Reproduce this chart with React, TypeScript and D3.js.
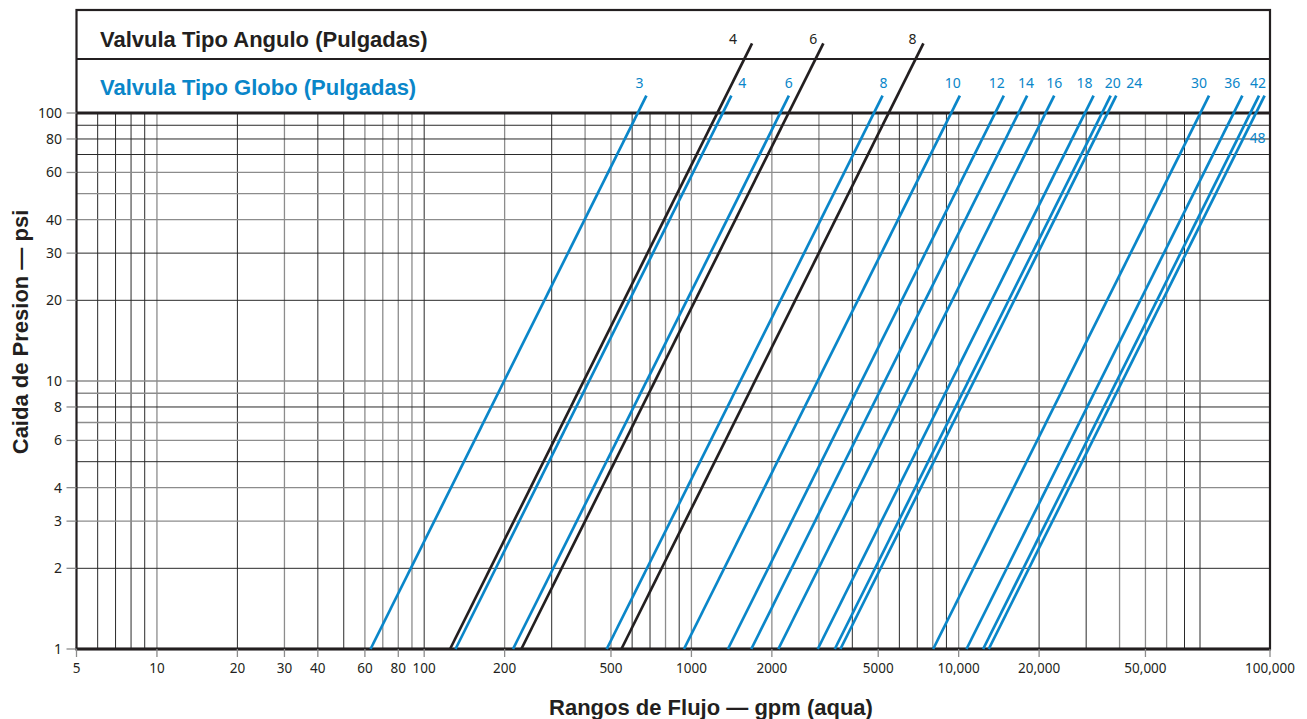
import React from "react";
import * as d3 from "d3";

// ---- data ----
const globoSizes = ["3", "4", "6", "8", "10", "12", "14", "16", "18", "20", "24", "30", "36", "42", "48"];
const globoCv = [63, 131, 215, 482, 938, 1370, 1675, 2115, 2970, 3440, 3610, 8030, 10700, 12350, 12960];
const anguloSizes = ["4", "6", "8"];
const anguloCv = [125, 231, 547];
const globoTopPsi = 116;
const anguloTopPsi = 182;
const xTickValues = [5, 10, 20, 30, 40, 60, 80, 100, 200, 500, 1000, 2000, 5000, 10000, 20000, 50000];
const xTickLabels = ["5", "10", "20", "30", "40", "60", "80", "100", "200", "500", "1000", "2000", "5000", "10,000", "20,000", "50,000"];
const xEndLabel = "100,000";
const yTickValues = [1, 2, 3, 4, 6, 8, 10, 20, 30, 40, 60, 80, 100];
const yTickLabels = ["1", "2", "3", "4", "6", "8", "10", "20", "30", "40", "60", "80", "100"];

// ---- styles ----
const BLUE = "#0a86c9";
const BLACK = "#231f20";
const GRID_DARK = "#2a2a2a";
const GRID_GRAY = "#8c8c8c";
const darkV = new Set([6, 7, 8, 9, 20, 40, 50, 100, 300, 600, 700, 900, 4000, 6000, 7000, 9000, 20000, 30000, 70000, 80000]);
const darkH = new Set([90, 80, 70, 30, 20, 8, 5, 2]);
const globoLabelDx = [-7, 11, 0, 1, -7, -7, -1, 0, -9, 2, 18, -10, -10, -1, -7];
const anguloLabelDx = [-19, -10, -11];
const TICK_FONT = "'Noto Sans', 'Open Sans', sans-serif";
const TITLE_FONT = "'Liberation Sans', Arial, sans-serif";

const W = 1307;
const H = 719;
const left = 76.5;
const right = 1270;
const top = 113;
const bottom = 649;
const boxTop = 10;
const sepY = 59;

export default function App() {
  // pure log scale: 5 -> left edge, 80,000 -> 1200 px; frame ends at `right`
  const x = d3.scaleLog().domain([5, 80000]).range([left, 1200]);
  const xEnd = x.invert(right);
  const y = d3.scaleLog().domain([1, 100]).range([bottom, top]);

  const vGrid: number[] = [];
  [1, 10, 100, 1000, 10000].forEach((d) => {
    for (let m = 1; m <= 9; m++) {
      const v = m * d;
      if (v > 5 && v <= 80000) vGrid.push(v);
    }
  });
  const hGrid: number[] = [];
  [1, 10].forEach((d) => {
    for (let m = 1; m <= 9; m++) {
      const v = m * d;
      if (v > 1 && v < 100) hGrid.push(v);
    }
  });

  const lineGen = d3
    .line<[number, number]>()
    .x((d) => x(d[0]))
    .y((d) => y(d[1]));

  const seg = (cv: number, topPsi: number): [number, number][] => [
    [cv, 1],
    [cv * Math.sqrt(topPsi), topPsi],
  ];

  return (
    <svg width={W} height={H} style={{ position: "absolute", left: 0, top: 0, background: "#fff" }}>
      {/* grid */}
      {vGrid.map((v) => (
        <line
          key={"v" + v}
          x1={x(v)}
          x2={x(v)}
          y1={top}
          y2={bottom}
          stroke={darkV.has(v) ? GRID_DARK : GRID_GRAY}
          strokeWidth={darkV.has(v) ? 1 : 1.3}
        />
      ))}
      {hGrid.map((v) => (
        <line
          key={"h" + v}
          x1={left}
          x2={right}
          y1={y(v)}
          y2={y(v)}
          stroke={darkH.has(v) ? GRID_DARK : GRID_GRAY}
          strokeWidth={darkH.has(v) ? 1 : 1.3}
        />
      ))}

      {/* frame */}
      <rect x={left} y={boxTop} width={right - left} height={bottom - boxTop} fill="none" stroke={BLACK} strokeWidth={2.2} />
      <line x1={left} x2={right} y1={sepY} y2={sepY} stroke={BLACK} strokeWidth={2.2} />
      <line x1={left} x2={right} y1={top} y2={top} stroke={BLACK} strokeWidth={3} />
      <line x1={left - 1} x2={right + 1} y1={bottom} y2={bottom} stroke={BLACK} strokeWidth={3} />

      {/* header texts */}
      <text x={100} y={47} fontFamily={TITLE_FONT} fontWeight="bold" fontSize={22} fill={BLACK}>
        Valvula Tipo Angulo (Pulgadas)
      </text>
      <text x={100} y={95} fontFamily={TITLE_FONT} fontWeight="bold" fontSize={22} fill={BLUE}>
        Valvula Tipo Globo (Pulgadas)
      </text>

      {/* x ticks */}
      {xTickValues.map((v, i) => (
        <g key={"xt" + v}>
          <line x1={x(v)} x2={x(v)} y1={bottom} y2={bottom + 8} stroke={GRID_GRAY} strokeWidth={1.3} />
          <text x={x(v)} y={673} textAnchor="middle" fontFamily={TICK_FONT} fontSize={13.5} fill={BLACK}>
            {xTickLabels[i]}
          </text>
        </g>
      ))}
      <g>
        <line x1={x(xEnd)} x2={x(xEnd)} y1={bottom} y2={bottom + 8} stroke={GRID_GRAY} strokeWidth={1.3} />
        <text x={x(xEnd)} y={673} textAnchor="middle" fontFamily={TICK_FONT} fontSize={13.5} fill={BLACK}>
          {xEndLabel}
        </text>
      </g>
      {/* y ticks */}
      {yTickValues.map((v, i) => (
        <g key={"yt" + v}>
          <line x1={left - 10} x2={left} y1={y(v)} y2={y(v)} stroke={GRID_GRAY} strokeWidth={1.3} />
          <text x={62} y={y(v) + 5} textAnchor="end" fontFamily={TICK_FONT} fontSize={14} fill={BLACK}>
            {yTickLabels[i]}
          </text>
        </g>
      ))}

      {/* axis titles */}
      <text
        transform={`translate(28,${332}) rotate(-90)`}
        textAnchor="middle"
        fontFamily={TITLE_FONT}
        fontWeight="bold"
        fontSize={22}
        fill={BLACK}
      >
        Caida de Presion — psi
      </text>
      <text x={711} y={715} textAnchor="middle" fontFamily={TITLE_FONT} fontWeight="bold" fontSize={22} fill={BLACK}>
        Rangos de Flujo — gpm (aqua)
      </text>

      {/* globo lines */}
      {globoCv.map((cv, i) => {
        const pts = seg(cv, globoTopPsi);
        const tx = x(pts[1][0]);
        const is48 = globoSizes[i] === "48";
        return (
          <g key={"g" + i}>
            <path d={lineGen(pts) || ""} stroke={BLUE} strokeWidth={2.7} fill="none" />
            <text
              x={tx + globoLabelDx[i]}
              y={is48 ? y(80) + 4 : y(globoTopPsi) - 8}
              textAnchor="middle"
              fontFamily={TICK_FONT}
              fontSize={14}
              fill={BLUE}
            >
              {globoSizes[i]}
            </text>
          </g>
        );
      })}
      {/* angulo lines */}
      {anguloCv.map((cv, i) => {
        const pts = seg(cv, anguloTopPsi);
        const tx = x(pts[1][0]);
        return (
          <g key={"a" + i}>
            <path d={lineGen(pts) || ""} stroke={BLACK} strokeWidth={2.7} fill="none" />
            <text
              x={tx + anguloLabelDx[i]}
              y={y(anguloTopPsi) + 1}
              textAnchor="middle"
              fontFamily={TICK_FONT}
              fontSize={14}
              fill={BLACK}
            >
              {anguloSizes[i]}
            </text>
          </g>
        );
      })}
    </svg>
  );
}
